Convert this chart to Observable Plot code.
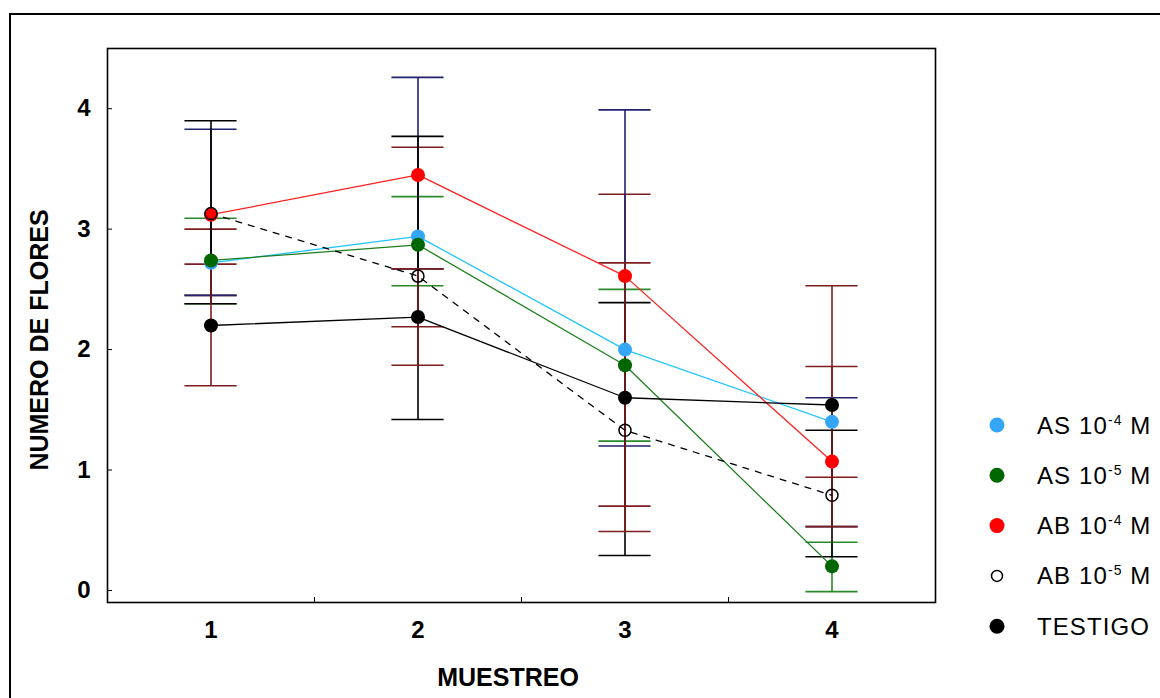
<!DOCTYPE html>
<html><head><meta charset="utf-8">
<script src="https://cdn.jsdelivr.net/npm/d3@7"></script>
<script src="https://cdn.jsdelivr.net/npm/@observablehq/plot@0.6"></script>
<style>html,body{margin:0;padding:0;background:#fff} svg{display:block}</style>
</head><body><div id="chart"></div>
<script>
// ---- data ----
const muestreo = [1, 2, 3, 4];
const xTickLabels = [1, 2, 3, 4];
const xMinorTicks = [1.5, 2.5, 3.5];
const yTickLabels = [0, 1, 2, 3, 4];

const asM4Mean = [2.72, 2.94, 2.00, 1.40];
const asM4Low  = [2.45, 2.19, 0.70, 0.94];
const asM4High = [3.00, 3.68, 3.29, 1.86];

const asM5Mean = [2.74, 2.87, 1.87, 0.20];
const asM5Low  = [2.38, 2.53, 1.24, -0.01];
const asM5High = [3.09, 3.27, 2.50, 0.40];

const abM4Mean = [3.12, 3.45, 2.61, 1.07];
const abM4Low  = [2.45, 2.67, 1.20, 0.53];
const abM4High = [3.83, 4.26, 3.99, 1.60];

const abM5Mean = [3.13, 2.61, 1.33, 0.79];
const abM5Low  = [2.38, 1.42, 0.29, 0.28];
const abM5High = [3.90, 3.77, 2.39, 1.33];

const testigoMean = [2.20, 2.27, 1.60, 1.54];
const testigoLow  = [1.70, 1.87, 0.49, 0.53];
const testigoHigh = [2.71, 2.67, 2.72, 2.53];

const seriesKeys = ["AS4", "AS5", "AB4", "AB5", "TESTIGO"];
const legendBase = ["AS 10", "AS 10", "AB 10", "AB 10", "TESTIGO"];
const legendExp  = ["-4", "-5", "-4", "-5", ""];
const legendUnit = [" M", " M", " M", " M", ""];
const xTitle = "MUESTREO";
const yTitle = "NUMERO DE FLORES";

// ---- styles ----
const dotFill    = ["#33a6f6", "#006600", "#ff0000", "none", "#000000"];
const dotStroke  = ["none", "none", "none", "#000000", "none"];
const lineColor  = ["#22c4ff", "#1f7f1f", "#ff2020", "#000000", "#000000"];
const lineDash   = [null, null, null, "6,7", null];
const whiskColor = ["#7d1e1e", "#2a8a2a", "#22226e", "#000000", "#7d1e1e"];
const capHalf = 0.126;
const FONT = "'Liberation Sans', Arial, sans-serif";

const allSeries = [
  [asM4Mean, asM4Low, asM4High],
  [asM5Mean, asM5Low, asM5High],
  [abM4Mean, abM4Low, abM4High],
  [abM5Mean, abM5Low, abM5High],
  [testigoMean, testigoLow, testigoHigh]
];
const rows = seriesKeys.map((k, s) => muestreo.map((x, i) => ({
  series: k, x, mean: allSeries[s][0][i], lo: allSeries[s][1][i], hi: allSeries[s][2][i]
})));

const marks = [];
rows.forEach((data, s) => {
  marks.push(Plot.ruleX(data, {x: "x", y1: "lo", y2: "hi", stroke: whiskColor[s], strokeWidth: 1.6}));
  marks.push(Plot.ruleY(data, {y: "hi", x1: d => d.x - capHalf, x2: d => d.x + capHalf, stroke: whiskColor[s], strokeWidth: 1.6}));
  marks.push(Plot.ruleY(data, {y: "lo", x1: d => d.x - capHalf, x2: d => d.x + capHalf, stroke: whiskColor[s], strokeWidth: 1.6}));
});
rows.forEach((data, s) => {
  marks.push(Plot.line(data, {x: "x", y: "mean", stroke: lineColor[s], strokeWidth: 1.3, strokeDasharray: lineDash[s]}));
});
rows.forEach((data, s) => {
  if (dotFill[s] === "none")
    marks.push(Plot.dot(data, {x: "x", y: "mean", r: 6, fill: "none", stroke: dotStroke[s], strokeWidth: 1.5}));
  else
    marks.push(Plot.dot(data, {x: "x", y: "mean", r: 7, fill: dotFill[s]}));
});

const chart = Plot.plot({
  width: 1160, height: 698,
  marginLeft: 107, marginRight: 225, marginTop: 48, marginBottom: 96,
  x: {domain: [0.5, 4.5]},
  y: {domain: [-0.1, 4.5]},
  style: {fontFamily: FONT, background: "#fff", color: "#000"},
  marks: [
    ...marks,
    Plot.frame({stroke: "#000", strokeWidth: 1.6}),
    Plot.axisY({ticks: yTickLabels, tickSize: -5, tickPadding: 22, label: null, fontSize: 24, fontWeight: "bold", tickFormat: d => String(d)}),
    Plot.axisX({ticks: xTickLabels, tickSize: 0, tickPadding: 18, label: null, fontSize: 24, fontWeight: "bold", tickFormat: d => String(d)}),
    Plot.axisX({ticks: xMinorTicks, tickSize: -5, tickFormat: () => "", label: null})
  ]
});

const svg = d3.select(chart);
svg.append("rect").attr("x", 10).attr("y", 14).attr("width", 1300).attr("height", 900)
  .attr("fill", "none").attr("stroke", "#000").attr("stroke-width", 2);

svg.append("text").attr("x", 508).attr("y", 686).attr("text-anchor", "middle")
  .attr("font-size", 25).attr("font-weight", "bold").attr("font-family", FONT)
  .text(xTitle);
svg.append("text").attr("transform", "translate(48,340) rotate(-90)").attr("text-anchor", "middle")
  .attr("font-size", 25).attr("font-weight", "bold").attr("font-family", FONT)
  .text(yTitle);

const lg = svg.append("g").attr("font-family", FONT).attr("text-anchor", "start");
seriesKeys.forEach((k, s) => {
  const y = 425 + s * 50.3;
  if (dotFill[s] === "none")
    lg.append("circle").attr("cx", 997).attr("cy", y).attr("r", 5.5).attr("fill", "none").attr("stroke", "#000").attr("stroke-width", 1.5);
  else
    lg.append("circle").attr("cx", 997).attr("cy", y).attr("r", 7.5).attr("fill", dotFill[s]);
  const t = lg.append("text").attr("x", 1037).attr("y", y + 8.5).attr("font-size", 24).attr("letter-spacing", 1.1).attr("text-anchor", "start");
  t.append("tspan").text(legendBase[s]);
  if (legendExp[s]) {
    t.append("tspan").attr("font-size", 14).attr("dy", -9).text(legendExp[s]);
    t.append("tspan").attr("dy", 9).text(legendUnit[s]);
  }
});

document.getElementById("chart").appendChild(chart);
</script>
</body></html>
